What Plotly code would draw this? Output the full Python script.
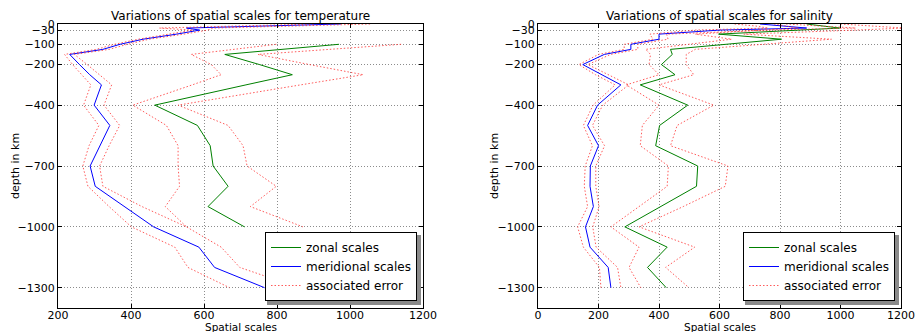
import plotly.graph_objects as go

depths = [0, -10, -20, -30, -50, -75, -100, -125, -150, -200, -250, -300,
          -400, -500, -600, -700, -800, -900, -1000, -1100, -1200, -1300]

# Temperature
temp_merid = [975, 770, 552, 588, 525, 433, 370, 323, 232, 259, 287, 319,
              299, 342, 314, 288, 302, 383, 462, 586, 629, 766]
temp_merid_lo = [900, 680, 478, 570, 500, 420, 355, 305, 218, 240, 265, 290,
                 270, 312, 285, 268, 282, 340, 401, 520, 556, 670]
temp_merid_hi = [1055, 860, 625, 610, 545, 450, 390, 340, 245, 280, 312, 347,
                 326, 369, 340, 314, 323, 430, 552, 647, 698, 860]
temp_zonal = [None, None, None, None, None, None, 970, 813, 657, 752, 842, 715,
              465, 582, 617, 625, 666, 611, 711, None, None, None]
temp_zonal_lo = [None, None, None, None, None, None, 798, 680, 565, 620, 647, 568,
                 405, 497, 529, 529, 533, 494, 552, None, None, None]
temp_zonal_hi = [None, None, None, None, None, None, 1140, 940, 748, 889, 1036, 865,
                 529, 666, 707, 718, 798, 727, 871, None, None, None]

# Salinity
sal_merid = [734, 810, 888, 600, 400, 400, 307, 307, 219, 148, 210, 274,
             197, 164, 200, 173, 172, 183, 157, 172, 232, 241]
sal_merid_lo = [650, 720, 760, 520, 370, 380, 285, 285, 200, 135, 190, 255,
                182, 150, 180, 156, 153, 164, 131, 150, 203, 208]
sal_merid_hi = [820, 950, 1050, 760, 425, 430, 330, 330, 240, 165, 235, 300,
                214, 180, 220, 191, 191, 202, 181, 192, 263, 274]
sal_zonal = [888, 940, 997, 864, 597, 805, 620, 438, 444, 408, 453, 338,
             495, 402, 389, 528, 524, 405, 287, 427, 362, 424]
sal_zonal_lo = [780, 820, 860, 740, 520, 640, 500, 356, 372, 367, 400, 292,
                400, 345, 338, 431, 427, 335, 241, 334, 301, 340]
sal_zonal_hi = [1000, 1100, 1210, 1050, 680, 970, 760, 520, 490, 490, 515, 400,
                581, 460, 438, 628, 619, 480, 334, 518, 422, 499]

titles = ["Variations of spatial scales for temperature",
          "Variations of spatial scales for salinity"]
ytickvals = [0, -30, -100, -200, -400, -700, -1000, -1300]
yticktext = ["0", "\u221230", "\u2212100", "\u2212200", "\u2212400", "\u2212700",
             "\u22121000", "\u22121300"]
xticks_left = [200, 400, 600, 800, 1000, 1200]
xticks_right = [0, 200, 400, 600, 800, 1000, 1200]

GREEN = "#008000"
BLUE = "#0000ff"
RED = "#ff3333"
FONT = "DejaVu Sans"

fig = go.Figure()

panels = [
    ("x", "y", "legend", temp_zonal, temp_merid, [temp_zonal_lo, temp_zonal_hi, temp_merid_lo, temp_merid_hi]),
    ("x2", "y2", "legend2", sal_zonal, sal_merid, [sal_zonal_lo, sal_zonal_hi, sal_merid_lo, sal_merid_hi]),
]
for xa, ya, lg, zon, mer, errs in panels:
    fig.add_trace(go.Scatter(x=zon, y=depths, xaxis=xa, yaxis=ya, mode="lines",
                             line=dict(color=GREEN, width=1), name="zonal scales",
                             legend=lg, connectgaps=False))
    fig.add_trace(go.Scatter(x=mer, y=depths, xaxis=xa, yaxis=ya, mode="lines",
                             line=dict(color=BLUE, width=1), name="meridional scales",
                             legend=lg))
    for i, e in enumerate(errs):
        fig.add_trace(go.Scatter(x=e, y=depths, xaxis=xa, yaxis=ya, mode="lines",
                                 line=dict(color=RED, width=1, dash="1.5px,2px"),
                                 opacity=0.8,
                                 name="associated error", legend=lg,
                                 showlegend=(i == 0)))

W, H = 916, 332
L, R, T, B = 58, 15, 24, 24
pw = W - L - R
ph = H - T - B
d1 = [0, 365 / pw]
d2 = [(538 - L) / pw, 1]
right_edge = W - R


def px_x(p):
    return (p - L) / pw


def px_y(p):
    return (H - B - p) / ph


axis_common = dict(showline=True, linecolor="black", linewidth=1, mirror="ticks",
                   ticks="inside", ticklen=4, tickcolor="black", automargin=False,
                   ticklabeloverflow="allow",
                   showgrid=True, gridcolor="#8c8c8c", griddash="1px,2px", gridwidth=1,
                   zeroline=False, tickfont=dict(family=FONT, size=11, color="black"))

legend_common = dict(xanchor="right", yanchor="bottom", bgcolor="white",
                     bordercolor="black", borderwidth=1,
                     font=dict(family=FONT, size=12), tracegroupgap=0, itemwidth=30)

# legend drop shadows (drawn under the legend boxes)
shadows = []
for right in (417, right_edge - 6):
    shadows.append(dict(type="rect", xref="paper", yref="paper", layer="above",
                        x0=px_x(right - 150), x1=px_x(right + 4),
                        y0=px_y(305), y1=px_y(235),
                        fillcolor="#8a8a8a", line=dict(width=0)))

# the last right-panel tick label sits on the page edge: drawn as an annotation
right_ticktext = [str(v) for v in xticks_right[:-1]] + [""]

fig.update_layout(
    width=W, height=H,
    margin=dict(l=L, r=R, t=T, b=B, autoexpand=False),
    paper_bgcolor="white", plot_bgcolor="white",
    font=dict(family=FONT, size=11, color="black"),
    xaxis=dict(domain=d1, range=[200, 1200], tickvals=xticks_left, anchor="y",
               ticklabelstandoff=-3, **axis_common),
    yaxis=dict(domain=[0, 1], range=[-1400, 0], tickvals=ytickvals, ticktext=yticktext,
               anchor="x", **axis_common),
    xaxis2=dict(domain=d2, range=[0, 1200], tickvals=xticks_right, ticktext=right_ticktext,
                anchor="y2", ticklabelstandoff=-3, **axis_common),
    yaxis2=dict(domain=[0, 1], range=[-1400, 0], tickvals=ytickvals, ticktext=yticktext,
                anchor="x2", **axis_common),
    legend=dict(x=px_x(417), y=px_y(301), **legend_common),
    legend2=dict(x=px_x(right_edge - 6), y=px_y(301), **legend_common),
    showlegend=True,
    shapes=shadows,
    annotations=[
        dict(text=titles[0], x=(d1[0] + d1[1]) / 2, y=px_y(16), xref="paper", yref="paper",
             xanchor="center", yanchor="middle", showarrow=False,
             font=dict(family=FONT, size=12)),
        dict(text=titles[1], x=(d2[0] + d2[1]) / 2, y=px_y(16), xref="paper", yref="paper",
             xanchor="center", yanchor="middle", showarrow=False,
             font=dict(family=FONT, size=12)),
        dict(text=str(xticks_right[-1]), x=xticks_right[-1], xref="x2", y=px_y(315), yref="paper",
             xanchor="center", yanchor="middle", showarrow=False,
             font=dict(family=FONT, size=11)),
        dict(text="Spatial scales", x=(d1[0] + d1[1]) / 2, y=px_y(327), xref="paper", yref="paper",
             xanchor="center", yanchor="middle", showarrow=False, font=dict(family=FONT, size=10.5)),
        dict(text="Spatial scales", x=(d2[0] + d2[1]) / 2, y=px_y(327), xref="paper", yref="paper",
             xanchor="center", yanchor="middle", showarrow=False, font=dict(family=FONT, size=10.5)),
        dict(text="depth in km", x=px_x(15), y=0.5, xref="paper", yref="paper", textangle=-90,
             xanchor="center", yanchor="middle", showarrow=False, font=dict(family=FONT, size=11)),
        dict(text="depth in km", x=px_x(494), y=0.5, xref="paper", yref="paper", textangle=-90,
             xanchor="center", yanchor="middle", showarrow=False, font=dict(family=FONT, size=11)),
    ],
)

fig.write_html("out.html", config={"displayModeBar": False},
               post_script="document.body.style.margin='0';document.body.style.overflow='hidden';")
